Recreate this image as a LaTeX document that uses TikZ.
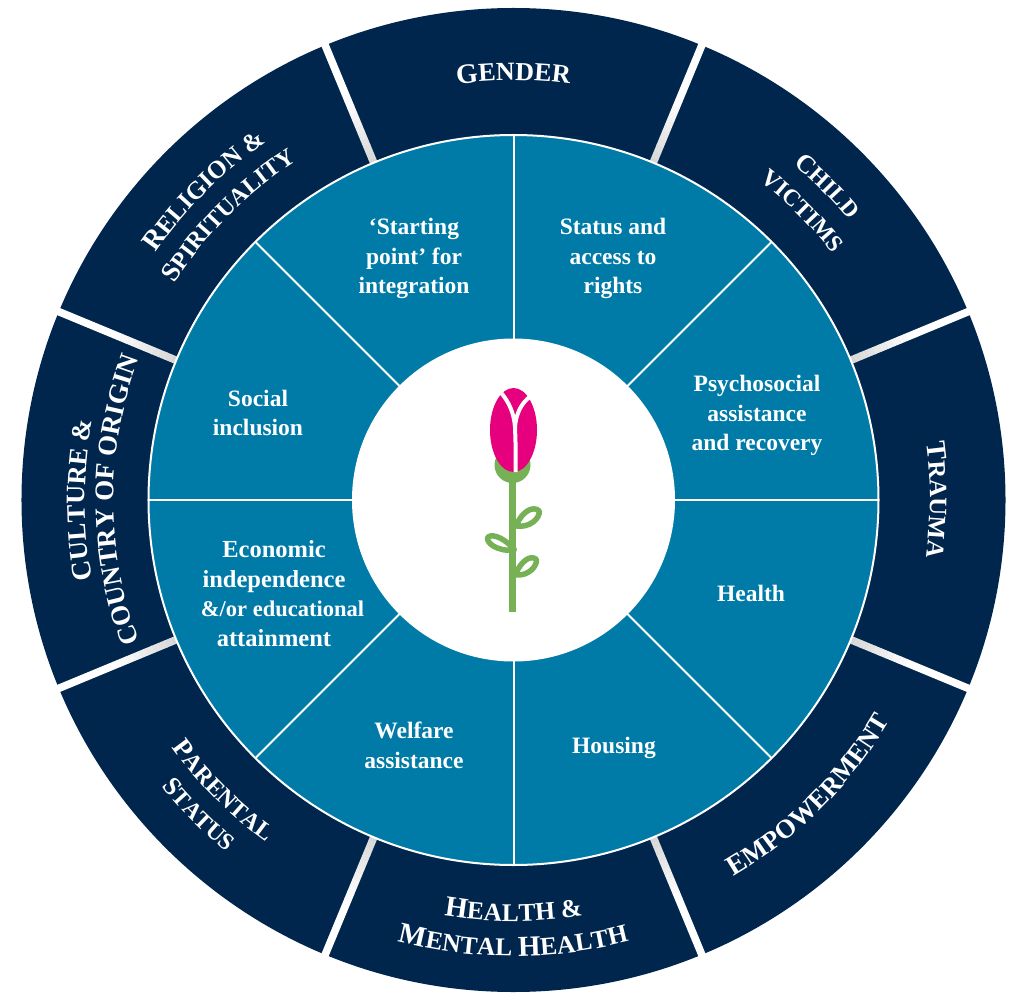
\documentclass[tikz,border=0pt]{standalone}
\usepackage{fontspec}
\setmainfont{Liberation Serif}
\usetikzlibrary{decorations.text}
\definecolor{navy}{RGB}{0,38,77}
\definecolor{teal}{RGB}{0,123,167}
\definecolor{bloom}{RGB}{230,0,126}
\definecolor{stemgreen}{RGB}{118,178,85}
\newcommand{\rfs}[1]{\fontsize{#1}{#1}\selectfont\bfseries\color{white}}
\newcommand{\ringcw}[3]{%
  \pgfmathsetmacro{\ringa}{#2+70}\pgfmathsetmacro{\ringb}{#2-70}%
  \path[decorate,decoration={text along path,text align=center,text={#3}}]
    (\ringa:#1pt) arc[start angle=\ringa,end angle=\ringb,radius=#1pt];}
\newcommand{\ringccw}[3]{%
  \pgfmathsetmacro{\ringa}{#2-70}\pgfmathsetmacro{\ringb}{#2+70}%
  \path[decorate,decoration={text along path,text align=center,text={#3}}]
    (\ringa:#1pt) arc[start angle=\ringa,end angle=\ringb,radius=#1pt];}
\tikzset{
  seglabel/.style={align=center,text=white,font=\fontsize{23.5}{29.7}\selectfont\bfseries,inner sep=0pt},
  petal/.style={draw=white,line width=4pt,line cap=butt},
  leaf/.style={draw=stemgreen,fill=white,line width=5.5pt,line join=round}
}
\begin{document}
\begin{tikzpicture}
\useasboundingbox (-513.5pt,-493pt) rectangle (497.5pt,500pt);
% outer ring
\fill[navy] (0,0) circle (492pt);
\foreach \a in {22.5,67.5,...,360}{
  \begin{scope}[rotate=\a]
  \foreach \i in {0,...,9}{
    \pgfmathsetmacro{\sepr}{362+\i*7}
    \pgfmathsetmacro{\sepk}{16-\i*1.7}
    \fill[black!\sepk!white] (\sepr pt,-3.8pt) rectangle (\sepr pt+7.4pt,3.8pt);
  }
  \fill[white] (432pt,-3.8pt) rectangle (500pt,3.8pt);
  \end{scope}
}
% inner ring
\draw[draw=white,fill=teal,line width=2pt] (0,0) circle (365pt);
\foreach \a in {0,45,...,315}
  \draw[white,line width=2pt] (\a:160pt) -- (\a:365pt);
\fill[white] (0,0) circle (161.5pt);
% ring labels
\ringcw{419.5}{90}{|\rfs{28}|G|\rfs{26}|ENDER}
\ringcw{437}{45}{|\rfs{26}|C|\rfs{23.5}|HILD}
\ringcw{403}{45}{|\rfs{24.5}|V|\rfs{23.5}|ICTIMS}
\ringcw{416.5}{0}{|\rfs{28}|T|\rfs{25}|RAUMA}
\ringccw{436}{315}{|\rfs{28}|E|\rfs{26.5}|MPOWERMENT}
\ringccw{421}{270}{|\rfs{29}|H|\rfs{25.5}|EALTH {\&}}
\ringccw{456}{270}{|\rfs{29}|M|\rfs{25.5}|ENTAL |\rfs{29}|H|\rfs{25.5}|EALTH}
\ringccw{422}{225}{|\rfs{27}|P|\rfs{24}|ARENTAL}
\ringccw{454}{225}{|\rfs{26}|S|\rfs{23.5}|TATUS}
\ringcw{428.5}{180}{|\rfs{28}|C|\rfs{26.5}|ULTURE {\&}}
\ringcw{400}{180}{|\rfs{27}|COUNTRY OF ORIGIN}
\ringcw{435}{135}{|\rfs{28}|R|\rfs{25}|ELIGION {\&}}
\ringcw{402}{135}{|\rfs{27}|S|\rfs{24}|PIRITUALITY}
% segment labels
\begin{scope}[shift={(-513.5pt,500pt)},x=1pt,y=-1pt]
\node[seglabel] (start) at (414,258.5) {‘Starting\\point’ for\\integration};
\node[seglabel] (status) at (613,258.5) {Status and\\access to\\rights};
\node[seglabel] (psycho) at (757,415.5) {Psychosocial\\assistance\\and recovery};
\node[seglabel] (social) at (258,413) {Social\\inclusion};
\node[seglabel] (health) at (751,593) {Health};
\node[seglabel] (housing) at (614,748) {Housing};
\node[seglabel] (welfare) at (414,745.5) {Welfare\\assistance};
\node[seglabel,font=\fontsize{24.5}{29.7}\selectfont\bfseries] (economic) at (274,593.5) {Economic\\independence\\\hspace*{17pt}{\fontsize{22.5}{29.7}\selectfont\&/or educational}\\attainment};
% flower
\draw[leaf] (516.7,524.5) .. controls (522,512) and (533,505) .. (539.3,511) .. controls (540,518) and (530,528) .. (516.7,526) -- cycle;
\draw[leaf] (514,549) .. controls (506,540) and (494,533) .. (488,537) .. controls (485,542) and (497,552) .. (514,550) -- cycle;
\draw[leaf] (516,573) .. controls (521,562) and (530,554) .. (536.5,559.5) .. controls (537,567) and (528,576) .. (516,575) -- cycle;
\fill[stemgreen] (509,470) rectangle (516,612);
\fill[stemgreen] (512.5,465) circle (18pt);
\fill[bloom] (513.5,430) ellipse (23.5pt and 42pt);
\draw[petal] (515.5,472) .. controls (516,455) and (515.5,440) .. (515,427) .. controls (514,413) and (509,402) .. (500.5,392);
\draw[petal] (515,427) .. controls (516,414) and (521,403) .. (531,396);
\end{scope}
\end{tikzpicture}
\end{document}
